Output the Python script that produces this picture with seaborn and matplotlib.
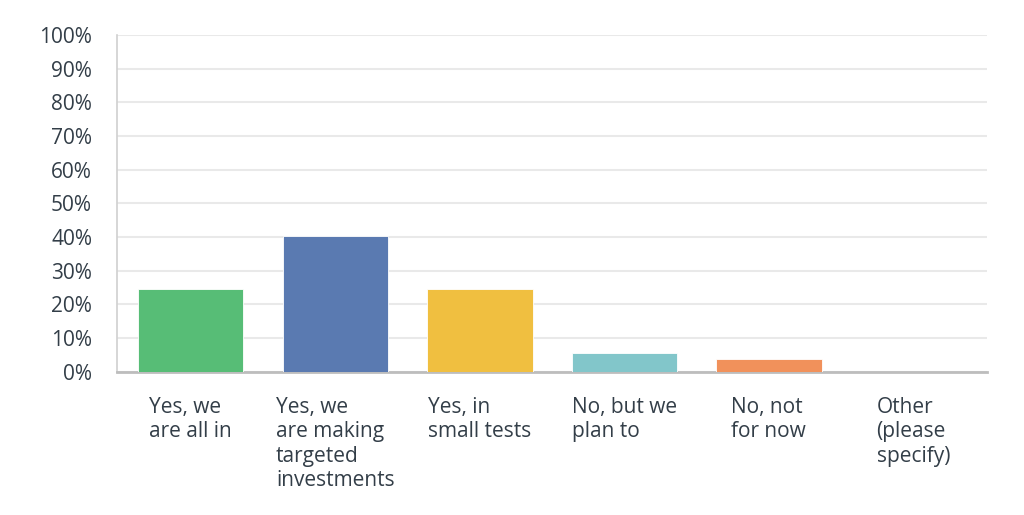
import matplotlib
matplotlib.use("Agg")
import matplotlib.pyplot as plt
import seaborn as sns
import pandas as pd

categories = ["Yes, we\nare all in", "Yes, we\nare making\ntargeted\ninvestments",
              "Yes, in\nsmall tests", "No, but we\nplan to", "No, not\nfor now",
              "Other\n(please\nspecify)"]
values = [24.5, 40.3, 24.5, 5.5, 3.9, 0.0]
colors = ["#57BD76", "#5A7AB1", "#F0BF40", "#82C6CA", "#F1915B", "#999999"]
yticks = [0, 10, 20, 30, 40, 50, 60, 70, 80, 90, 100]
ytick_labels = [f"{t}%" for t in yticks]

sns.set_theme(style="white")
plt.rcParams['font.family'] = ['Open Sans', 'DejaVu Sans']

df = pd.DataFrame({"cat": categories, "val": values})

fig = plt.figure(figsize=(10.24, 5.15), dpi=100)
ax = fig.add_axes([0.1143, 0.2783, 0.8496, 0.6537])

sns.barplot(data=df, x="cat", y="val", hue="cat", palette=colors, legend=False,
            width=0.73, saturation=1, ax=ax, edgecolor="#ffffff", linewidth=0.6,
            zorder=3)

ax.set_ylim(0, 100)
ax.set_xlim(-0.51, 5.51)
ax.set_yticks(yticks)
ax.set_yticklabels(ytick_labels)
ax.yaxis.grid(True, color="#e9e9e9", linewidth=1.5, zorder=0)
ax.set_axisbelow(True)
ax.set_xlabel("")
ax.set_ylabel("")

txt_color = "#333e48"
ax.tick_params(axis="y", length=0, pad=18, labelsize=15, labelcolor=txt_color)
ax.tick_params(axis="x", length=0, pad=18, labelsize=15, labelcolor=txt_color)
for lab in ax.get_xticklabels():
    lab.set_multialignment("left")
    lab.set_verticalalignment("top")
    lab.set_linespacing(1.22)

for s in ["top", "right"]:
    ax.spines[s].set_visible(False)
ax.spines["left"].set_color("#d0d0d0")
ax.spines["left"].set_linewidth(1.2)
ax.spines["bottom"].set_color("#bdbdbd")
ax.spines["bottom"].set_linewidth(2)

fig.savefig("out.png", dpi=100, facecolor="white")
